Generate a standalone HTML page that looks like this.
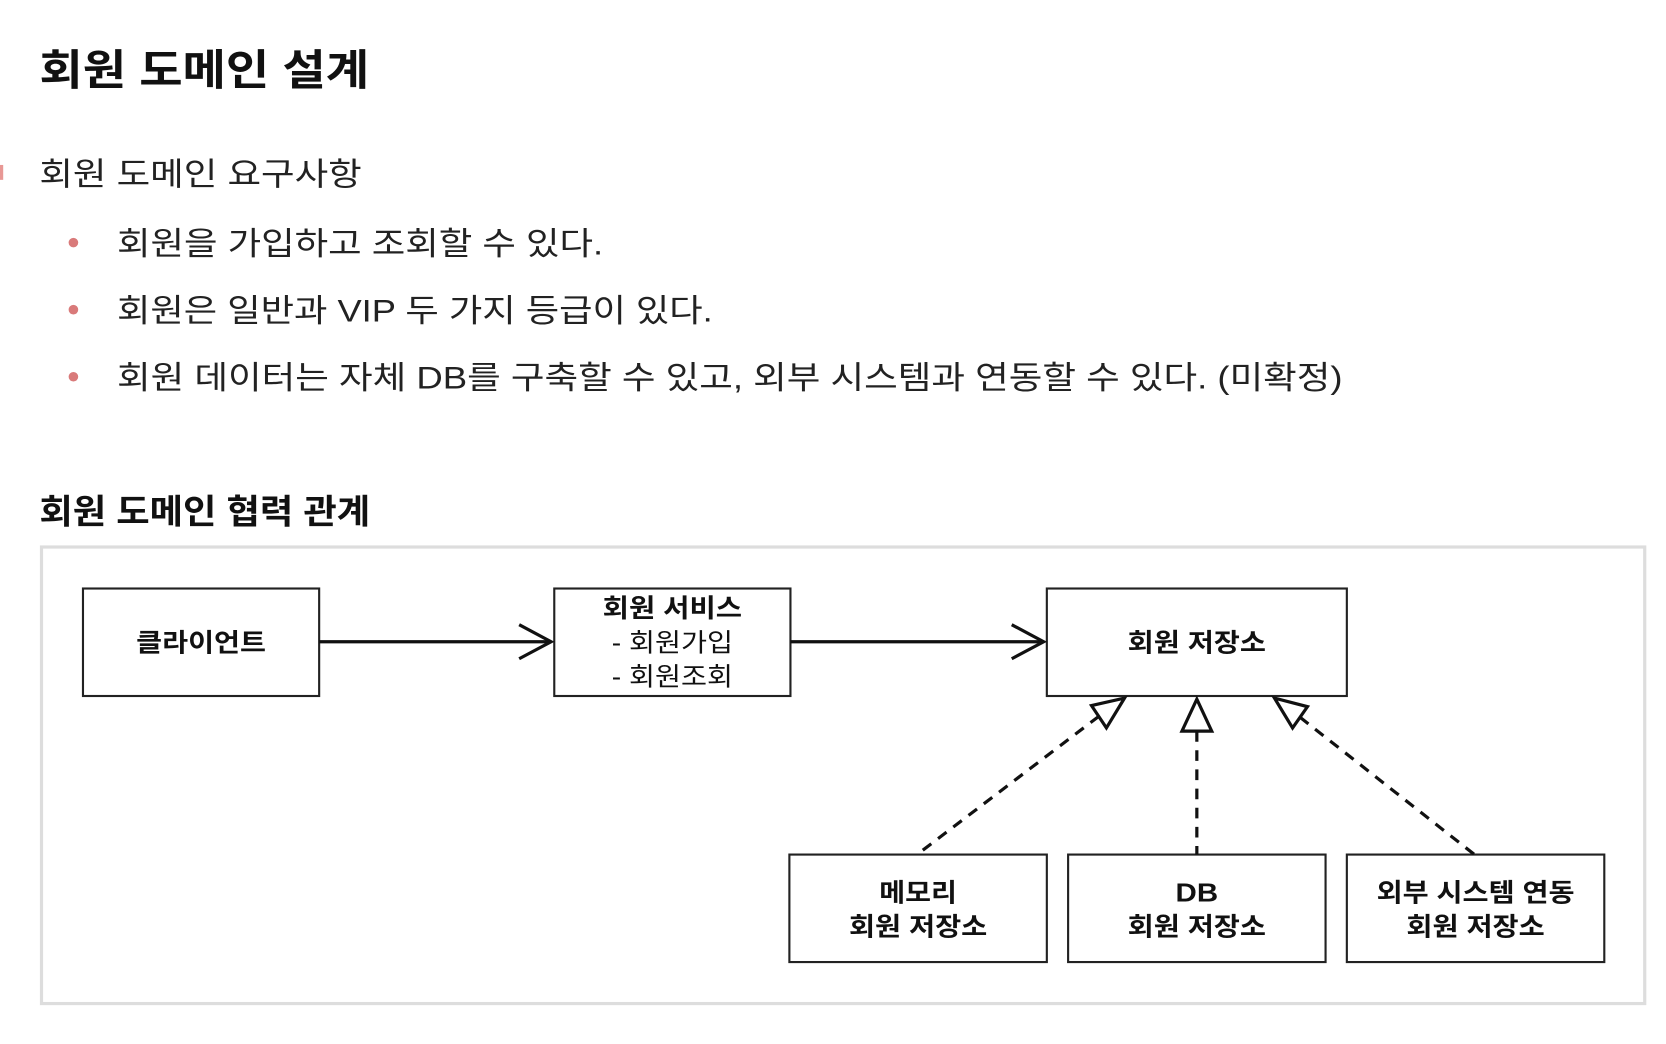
<!DOCTYPE html>
<html><head><meta charset="utf-8"><style>
html,body{margin:0;padding:0;background:#fff;}
svg{display:block;}
text{font-family:"Liberation Sans","Noto Sans CJK KR",sans-serif;}
</style></head><body>
<svg width="1666" height="1044" viewBox="0 0 1566 981" preserveAspectRatio="none" xmlns="http://www.w3.org/2000/svg">
<rect x="0" y="0" width="1566" height="981" fill="#fff"/>
<text x="37" y="80" font-size="40" font-weight="bold" fill="#111" textLength="310" lengthAdjust="spacingAndGlyphs">회원 도메인 설계</text>
<rect x="0" y="155" width="3" height="14" fill="#d9534f" opacity="0.6"/>
<text x="37" y="174" font-size="30" fill="#222" textLength="303" lengthAdjust="spacingAndGlyphs">회원 도메인 요구사항</text>
<circle cx="69" cy="228" r="4.5" fill="#d97a7a"/>
<text x="110" y="239" font-size="30" fill="#222" textLength="457" lengthAdjust="spacingAndGlyphs">회원을 가입하고 조회할 수 있다.</text>
<circle cx="69" cy="291" r="4.5" fill="#d97a7a"/>
<text x="110" y="302" font-size="30" fill="#222" textLength="560" lengthAdjust="spacingAndGlyphs">회원은 일반과 VIP 두 가지 등급이 있다.</text>
<circle cx="69" cy="354" r="4.5" fill="#d97a7a"/>
<text x="110" y="365" font-size="30" fill="#222" textLength="1152" lengthAdjust="spacingAndGlyphs">회원 데이터는 자체 DB를 구축할 수 있고, 외부 시스템과 연동할 수 있다. (미확정)</text>
<text x="37" y="492" font-size="32" font-weight="bold" fill="#111" textLength="311" lengthAdjust="spacingAndGlyphs">회원 도메인 협력 관계</text>
<rect x="39" y="514" width="1507" height="429" fill="#fff" stroke="#ddd" stroke-width="3"/>
<g fill="#fff" stroke="#222" stroke-width="2">
<rect x="78" y="553" width="222" height="101"/>
<rect x="521" y="553" width="222" height="101"/>
<rect x="984" y="553" width="282" height="101"/>
<rect x="742" y="803" width="242" height="101"/>
<rect x="1004" y="803" width="242" height="101"/>
<rect x="1266" y="803" width="242" height="101"/>
</g>
<g stroke="#111" stroke-width="3" fill="none">
<line x1="300" y1="603" x2="518" y2="603"/>
<polyline points="488,587 518,603 488,619"/>
<line x1="743" y1="603" x2="981" y2="603"/>
<polyline points="951,587 981,603 951,619"/>
</g>
<g stroke="#111" stroke-width="3" fill="none" stroke-dasharray="10,8">
<line x1="1033" y1="673" x2="862" y2="803"/>
<line x1="1125" y1="687" x2="1125" y2="803"/>
<line x1="1222" y1="674" x2="1386" y2="803"/>
</g>
<g stroke="#111" stroke-width="3" fill="#fff" stroke-linejoin="miter">
<polygon points="1057,656 1040,684 1026,663"/>
<polygon points="1125,657 1111,687 1139,687"/>
<polygon points="1198,656 1215,684 1229,664"/>
</g>
<g font-size="24" font-weight="bold" fill="#111" text-anchor="middle" lengthAdjust="spacingAndGlyphs">
<text x="189" y="612" textLength="122" lengthAdjust="spacingAndGlyphs">클라이언트</text>
<text x="632" y="580" textLength="131" lengthAdjust="spacingAndGlyphs">회원 서비스</text>
<text x="632" y="612" font-weight="normal" textLength="114" lengthAdjust="spacingAndGlyphs">- 회원가입</text>
<text x="632" y="644" font-weight="normal" textLength="114" lengthAdjust="spacingAndGlyphs">- 회원조회</text>
<text x="1125" y="612" textLength="130" lengthAdjust="spacingAndGlyphs">회원 저장소</text>
<text x="863" y="847" textLength="73" lengthAdjust="spacingAndGlyphs">메모리</text>
<text x="863" y="879" textLength="130" lengthAdjust="spacingAndGlyphs">회원 저장소</text>
<text x="1125" y="847" textLength="40" lengthAdjust="spacingAndGlyphs">DB</text>
<text x="1125" y="879" textLength="130" lengthAdjust="spacingAndGlyphs">회원 저장소</text>
<text x="1387" y="847" textLength="186" lengthAdjust="spacingAndGlyphs">외부 시스템 연동</text>
<text x="1387" y="879" textLength="130" lengthAdjust="spacingAndGlyphs">회원 저장소</text>
</g>
</svg>
</body></html>
